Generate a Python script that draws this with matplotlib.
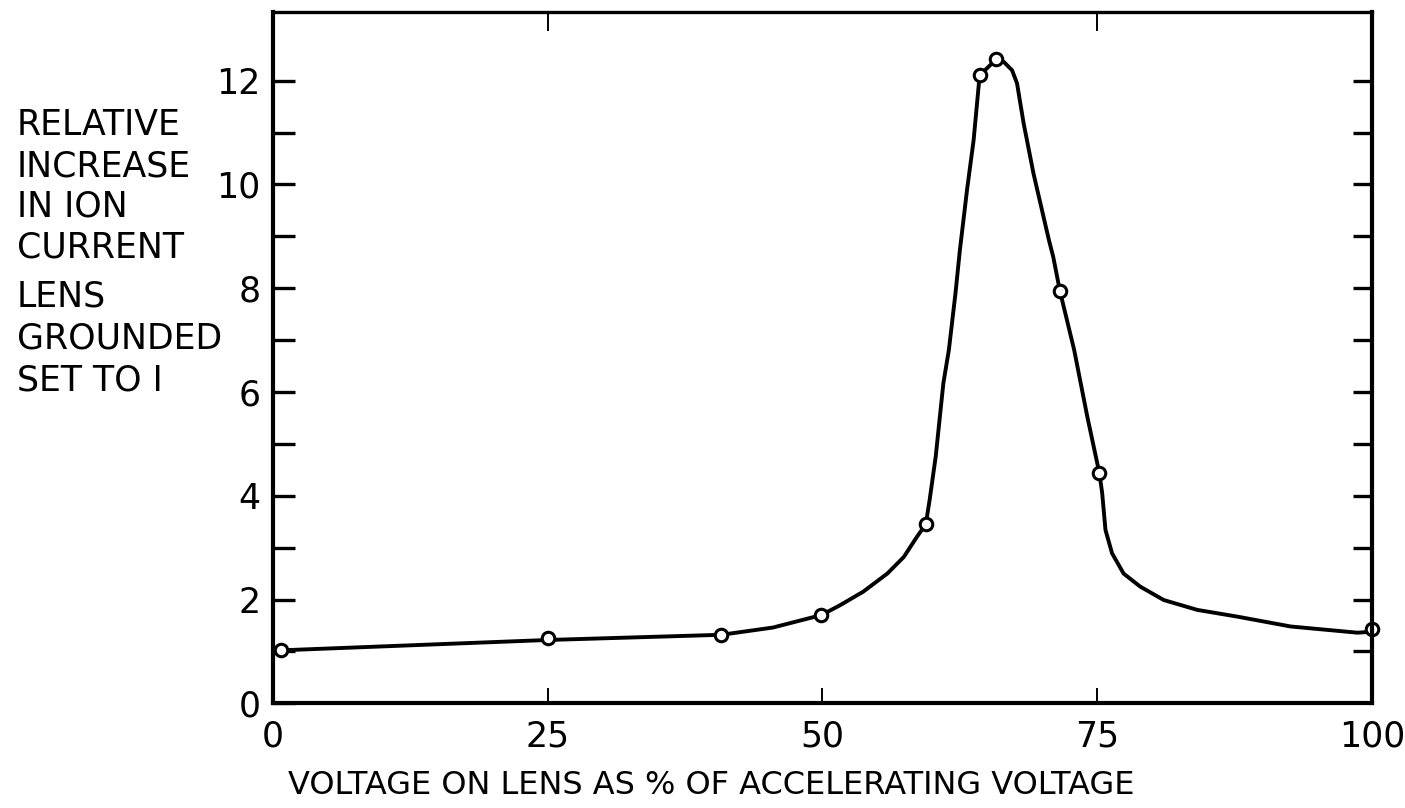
import numpy as np
import matplotlib
matplotlib.use("Agg")
import matplotlib.pyplot as plt

# measured points (open circles)
volt_pct = [0.7, 25.0, 40.8, 49.9, 59.4, 64.3, 65.8, 71.6, 75.2, 100.0]
rel_current = [1.03, 1.25, 1.32, 1.70, 3.45, 12.10, 12.41, 7.95, 4.43, 1.43]

# hand drawn curve
curve_x = [0.0, 0.7, 25.0, 40.8, 45.5, 49.9, 51.6, 53.7, 55.9, 57.4, 58.6, 59.4, 59.6,
           59.75, 60.3, 61.0, 61.5, 62.1, 62.5, 63.15, 63.75, 64.3, 65.8, 66.5, 67.25,
           67.7, 68.3, 69.2, 70.6, 71.0, 71.6, 72.9, 74.1, 75.2, 75.45, 75.75, 76.35,
           77.4, 78.9, 81.05, 84.1, 87.75, 92.6, 98.7, 100.0]
curve_y = [0.98, 1.02, 1.22, 1.32, 1.46, 1.70, 1.89, 2.15, 2.50, 2.82, 3.21, 3.45, 3.72,
           3.92, 4.75, 6.17, 6.81, 7.90, 8.73, 9.89, 10.85, 12.10, 12.41, 12.36, 12.20,
           11.95, 11.18, 10.21, 8.93, 8.60, 7.95, 6.81, 5.52, 4.43, 4.05, 3.34, 2.89,
           2.50, 2.25, 1.99, 1.80, 1.67, 1.48, 1.36, 1.38]

x_ticks = [0, 25, 50, 75, 100]
y_ticks = [0, 2, 4, 6, 8, 10, 12]

ylabel_lines = ["RELATIVE", "INCREASE", "IN ION", "CURRENT"]
ylabel_note = ["LENS", "GROUNDED", "SET TO I"]
xlabel = "VOLTAGE ON LENS AS % OF ACCELERATING VOLTAGE"

plt.rcParams['font.family'] = ['DejaVu Sans']

fig = plt.figure(figsize=(14.05, 8.08), dpi=100)
ax = fig.add_axes([0.1943, 0.1296, 0.9765 - 0.1943, 0.985 - 0.1296])

ax.plot(curve_x, curve_y, color="black", lw=2.8, solid_capstyle="round",
        solid_joinstyle="round", clip_on=False, zorder=2)
ax.plot(volt_pct, rel_current, linestyle="none", marker="o", ms=9, mew=2.2,
        mfc="white", mec="black", clip_on=False, zorder=2.2)

ax.set_xlim(0, 100)
ax.set_ylim(0, 13.32)

for side in ["left", "bottom", "right"]:
    ax.spines[side].set_linewidth(3.0)
ax.spines["top"].set_linewidth(2.4)

# left axis: labelled even ticks, plus odd ticks
ax.set_yticks(y_ticks)
ax.set_yticklabels([str(v) for v in y_ticks])
ax.set_yticks(range(1, 13, 2), minor=True)
ax.tick_params(axis="y", which="both", direction="in", length=16, width=2.4,
               labelsize=25, pad=9)

# bottom: thin ticks at 25/50/75, labels at all
ax.set_xticks(x_ticks)
ax.set_xticklabels([str(v) for v in x_ticks])
ax.tick_params(axis="x", which="major", direction="in", length=11, width=1.4,
               labelsize=25, pad=12)
xt = ax.xaxis.get_major_ticks()
xt[0].tick1line.set_visible(False)
xt[-1].tick1line.set_visible(False)

# right side ticks at every unit
sec_r = ax.secondary_yaxis("right")
sec_r.set_yticks(range(1, 13))
sec_r.tick_params(direction="in", length=14, width=2.4, labelright=False)
sec_r.spines["right"].set_visible(False)

# top ticks
sec_t = ax.secondary_xaxis("top")
sec_t.set_xticks([25, 75])
sec_t.tick_params(direction="in", length=14, width=1.4, labeltop=False)
sec_t.spines["top"].set_visible(False)

fig.text(0.506, 0.028, xlabel, ha="center", va="center", fontsize=23)

y0 = 0.845
for i, s in enumerate(ylabel_lines):
    fig.text(0.012, y0 - i * 0.0505, s, ha="left", va="center", fontsize=25)
y1 = 0.633
for i, s in enumerate(ylabel_note):
    fig.text(0.012, y1 - i * 0.052, s, ha="left", va="center", fontsize=25)

fig.savefig("out.png", dpi=100)
